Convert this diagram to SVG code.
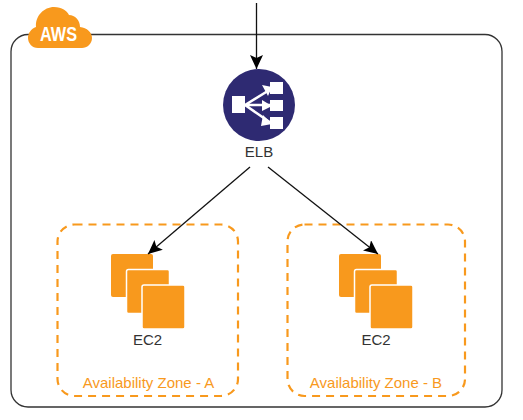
<svg xmlns="http://www.w3.org/2000/svg" width="523" height="420" viewBox="0 0 523 420">
<style>
text{font-family:"Liberation Sans",Arial,sans-serif;font-size:15px;text-anchor:middle}
.lbl{fill:#333}
.zone{fill:none;stroke:#f8991d;stroke-width:2.2;stroke-dasharray:8 6}
.zt{fill:#f8991d}
.o{fill:#f8991d}
.c{stroke:#111;stroke-width:1.300;fill:none;marker-end:url(#a)}
</style>
<defs>
<marker id="a" markerUnits="userSpaceOnUse" markerWidth="18" markerHeight="14" refX="14" refY="6.500" orient="auto"><path d="M0 0L14 6.500L0 13L3 6.500Z" fill="#000"/></marker>
<g id="stack">
<rect x="0" y="0" width="42" height="43" rx="2" class="o"/>
<rect x="15.500" y="15.500" width="43" height="44" rx="2" class="o" stroke="#fff" stroke-width="1.500"/>
<rect x="31" y="31" width="43" height="44" rx="2" class="o" stroke="#fff" stroke-width="1.500"/>
</g>
</defs>
<rect width="523" height="420" fill="#fff"/>
<g id="aws-group">
<rect x="11" y="34.500" width="491" height="372.500" rx="17" fill="none" stroke="#333" stroke-width="1.300"/>
</g>
<g id="aws-cloud">
<path class="o" d="M38 48C32 48 28 43 28 38C28 33 31 29 36 27C35 16 44 7 54 7C62 7 67 11 69 15C75 15 80 20 80 27C87 28 92 32 92 38C92 44 87 48 82 48Z"/>
<text x="58.500" y="41" fill="#fff" textLength="37" lengthAdjust="spacingAndGlyphs" style="font-size:20px;font-weight:700">AWS</text>
</g>
<g id="elb">
<circle cx="259" cy="105" r="36" fill="#2e2a72"/>
<rect x="232" y="96" width="13" height="17" fill="#fff"/>
<rect x="270" y="82" width="13" height="12" fill="#fff"/>
<rect x="270" y="100" width="13" height="11" fill="#fff"/>
<rect x="270" y="117" width="13" height="12" fill="#fff"/>
<path d="M245 105L271 89M245 105H271M245 105L271 123" stroke="#fff" stroke-width="2.500" fill="none"/>
<path d="M262 85L272 87L268 96ZM262 100L272 106L262 111ZM263 115L272 124L261 126Z" fill="#fff"/>
<text x="259" y="157" class="lbl">ELB</text>
</g>
<g id="zone-a">
<rect x="57.500" y="224.500" width="180.500" height="171.500" rx="17" class="zone"/>
<text x="148.500" y="388" class="zt">Availability Zone - A</text>
</g>
<g id="ec2-a">
<use href="#stack" x="111" y="254"/>
<text x="147.500" y="345" class="lbl">EC2</text>
</g>
<g id="zone-b">
<rect x="287.500" y="224.500" width="177.500" height="171.500" rx="17" class="zone"/>
<text x="376" y="388" class="zt">Availability Zone - B</text>
</g>
<g id="ec2-b">
<use href="#stack" x="339" y="254"/>
<text x="376" y="345" class="lbl">EC2</text>
</g>
<g id="connectors">
<path class="c" d="M256.500 3V69"/>
<path class="c" d="M250 167L148 254"/>
<path class="c" d="M268 167L378 254"/>
</g>
</svg>
